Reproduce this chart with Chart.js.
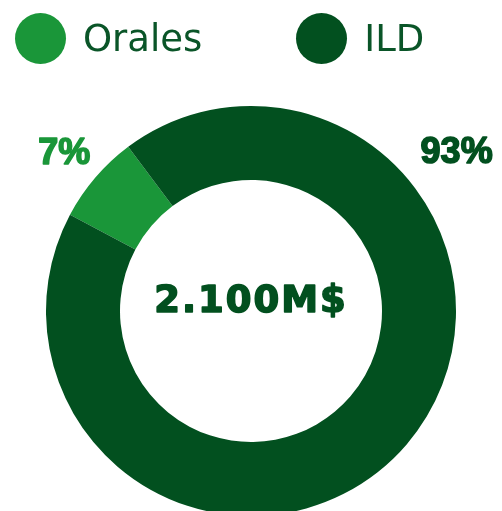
<!DOCTYPE html>
<html>
<head>
<meta charset="utf-8">
<script src="https://cdn.jsdelivr.net/npm/chart.js@4.4.1/dist/chart.umd.min.js"></script>
<style>
  html, body { margin: 0; padding: 0; width: 502px; height: 511px; overflow: hidden; background: #fff; }
  #wrap { position: relative; width: 502px; height: 516px; }
  #legend {
    position: absolute; top: 13px; left: 15px; z-index: 1;
    display: flex; align-items: center;
    font-family: 'DejaVu Sans'; font-size: 37px; color: #0a5528;
  }
  .item { display: flex; align-items: center; }
  .dot { width: 51px; height: 51px; border-radius: 50%; margin-right: 17px; }
  .item + .item { margin-left: 94px; }
</style>
</head>
<body>
<div id="wrap">
  <div id="legend"></div>
  <canvas id="chart"></canvas>
</div>
<script>
const categories = ['Orales', 'ILD'];
const shares = [7, 93];
const totalLabel = '2.100M$';
const colors = ['#1a9639', '#02501f'];

// leyenda en html, sale de los mismos arrays
const legend = document.getElementById('legend');
categories.forEach((c, i) => {
  const item = document.createElement('div');
  item.className = 'item';
  item.innerHTML = '<span class="dot" style="background:' + colors[i] + '"></span><span>' + c + '</span>';
  legend.appendChild(item);
});

/*
* Texto del centro y porcentajes fuera del anillo
* (se pinta con un poco de trazo para que se vea más grueso)
*/
const extraText = {
  id: 'extraText',
  afterDraw(chart) {
    const ctx = chart.ctx;
    const meta = chart.getDatasetMeta(0);
    const first = meta.data[0];
    const cx = first.x, cy = first.y, R = first.outerRadius;

    ctx.save();
    ctx.lineJoin = 'round';
    ctx.fillStyle = colors[1];
    ctx.strokeStyle = colors[1];
    ctx.lineWidth = 1.6;
    ctx.font = 'bold 37px "DejaVu Sans"';
    ctx.textAlign = 'center';
    ctx.textBaseline = 'alphabetic';
    ctx.letterSpacing = '2px';
    ctx.fillText(totalLabel, cx, cy + 1);
    ctx.strokeText(totalLabel, cx, cy + 1);
    ctx.letterSpacing = '0px';

    const firstMid = (first.startAngle + first.endAngle) / 2;
    ctx.font = 'bold 36px "Liberation Sans"';
    meta.data.forEach((arc, i) => {
      let ang = (arc.startAngle + arc.endAngle) / 2;
      let dist = R + 41;
      if (i > 0) {
        // el grande va en espejo del pequeño
        ang = -Math.PI - firstMid + 0.045;
        dist = R + 56;
      }
      const x = cx + Math.cos(ang) * dist;
      const y = cy + Math.sin(ang) * dist;
      ctx.fillStyle = colors[i];
      ctx.strokeStyle = colors[i];
      ctx.fillText(shares[i] + '%', x, y + 13);
      ctx.strokeText(shares[i] + '%', x, y + 13);
    });
    ctx.restore();
  }
};

const ctx = document.getElementById('chart');

new Chart(ctx, {
  type: 'doughnut',
  data: {
    labels: categories,
    datasets: [{
      data: shares,
      backgroundColor: colors,
      borderWidth: 0
    }]
  },
  options: {
    responsive: true,
    maintainAspectRatio: false,
    animation: false,
    rotation: -62,
    cutout: '63.9%',
    layout: { padding: { top: 106 } },
    plugins: {
      legend: { display: false },
      tooltip: { enabled: false }
    }
  },
  plugins: [extraText]
});
</script>
</body>
</html>
